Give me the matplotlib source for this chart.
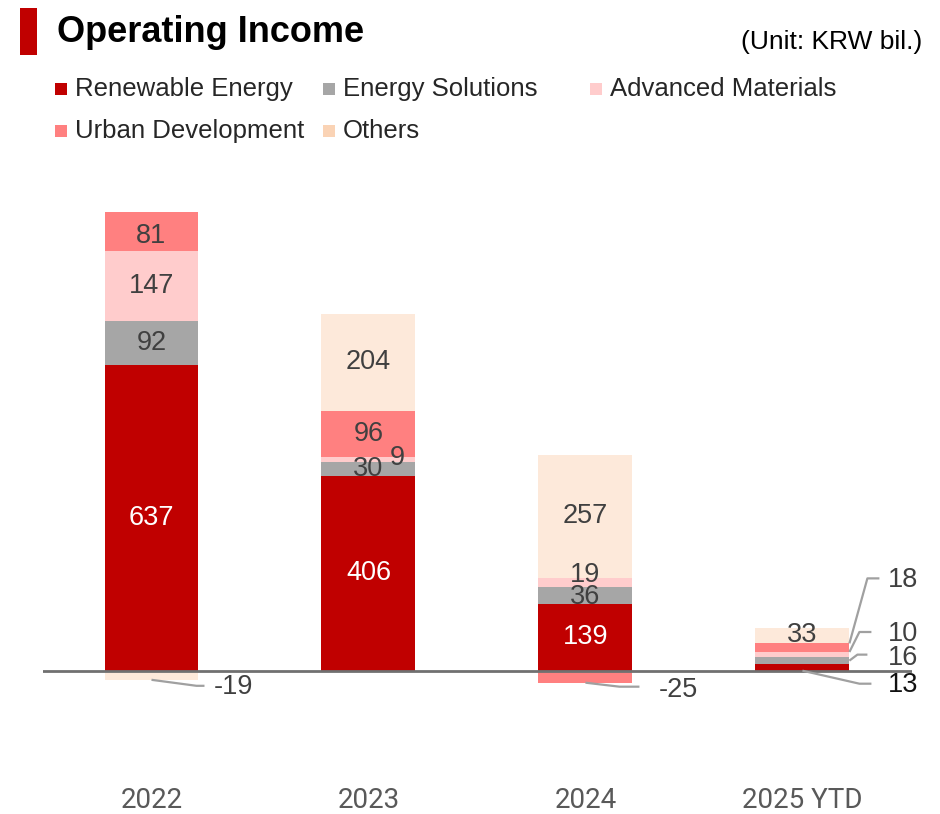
#
# operating income by segment - stacked bars
#

import matplotlib
matplotlib.use('Agg')
import matplotlib.pyplot as plt
from matplotlib.patches import Rectangle
from matplotlib.transforms import blended_transform_factory

plt.rcParams['font.family'] = ['Liberation Sans', 'DejaVu Sans']

years = ['2022', '2023', '2024', '2025 YTD']
segments = ['Renewable Energy', 'Energy Solutions', 'Advanced Materials',
            'Urban Development', 'Others']
renewable = [637, 406, 139, 13]
energy_sol = [92, 30, 36, 16]
adv_mat = [147, 9, 19, 10]
urban_dev = [81, 96, -25, 18]
others = [-19, 204, 257, 33]

series = [renewable, energy_sol, adv_mat, urban_dev, others]
bar_colors = ['#C00000', '#A6A6A6', '#FFCCCC', '#FF8080', '#FDE9DA']
legend_colors = ['#C00000', '#A6A6A6', '#FFCCCC', '#FF8080', '#FAD3B5']

W, H = 940, 814
fig = plt.figure(figsize=(W / 100, H / 100), dpi=100)

# axes placed in pixels so the baseline sits where the original has it
ax_left, ax_right, ax_top, ax_bot = 43, 912, 167.4, 742.6
ax = fig.add_axes([ax_left / W, 1 - ax_bot / H, (ax_right - ax_left) / W, (ax_bot - ax_top) / H])
xlim = (-0.5, 3.505)
ylim = (-150, 1050)
ax.set_xlim(*xlim)
ax.set_ylim(*ylim)
ax.axis('off')

PX_X = (ax_right - ax_left) / (xlim[1] - xlim[0])
PX_Y = (ax_bot - ax_top) / (ylim[1] - ylim[0])
bar_w = 0.433


def off(x, y, dx, dy):
    """shift a data point by screen pixels (dy down is positive)"""
    return x + dx / PX_X, y - dy / PX_Y


# inside-label nudges (series, bar) -> pixels
nudges = {(2, 1): (29, -2), (2, 2): (0, -7), (1, 2): (0, 2), (3, 0): (0, 5)}

# leader-line labels: anchor side, anchor y, elbow, end, text offsets in px
leaders = {
    (4, 0): ('c', 'end', (45, 6), (53, 6), (62, 7), '#404040'),
    (3, 2): ('c', 'end', (34, 4), (54, 4), (73, 7), '#404040'),
    (3, 3): ('r', 'end', (18, -65), (30, -65), (38, -63), '#404040'),
    (2, 3): ('r', 'end', (10, -20), (22, -20), (38, -18), '#404040'),
    (1, 3): ('r', 'mid', (8, -6), (18, -6), (38, -3), '#404040'),
    (0, 3): ('c', 'start', (57, 13), (69, 13), (85, 14), '#111111'),
}

pos_base = [0.0] * len(years)
neg_base = [0.0] * len(years)
for si, vals in enumerate(series):
    for bi, v in enumerate(vals):
        b = pos_base[bi] if v >= 0 else neg_base[bi]
        ax.bar(bi, v, bottom=b, width=bar_w, color=bar_colors[si], linewidth=0, zorder=2)
        if v >= 0:
            pos_base[bi] += v
        else:
            neg_base[bi] += v

        if (si, bi) in leaders:
            side, ypos, elbow, end, toff, tcol = leaders[(si, bi)]
            ax_x = bi + (bar_w / 2 if side == 'r' else 0)
            ax_y = {'end': b + v, 'mid': b + v / 2, 'start': b}[ypos]
            ex, ey = off(ax_x, ax_y, *elbow)
            nx, ny = off(ax_x, ax_y, *end)
            ax.plot([ax_x, ex, nx], [ax_y, ey, ny], color='#A0A0A0', lw=1.6,
                    zorder=4, solid_capstyle='butt')
            tx, ty = off(ax_x, ax_y, *toff)
            ax.text(tx, ty, f"{v}", ha='left', va='center', fontsize=19.5, color=tcol, zorder=5)
        else:
            dx, dy = nudges.get((si, bi), (0, 0))
            tx, ty = off(bi, b + v / 2, dx, dy)
            ax.text(tx, ty, f"{v}", ha='center', va='center', fontsize=19.5,
                    color='white' if si == 0 else '#404040', zorder=5)

ax.axhline(0, color='#707070', lw=2, zorder=3)

# category labels under the bars
cat_tr = blended_transform_factory(ax.transData, fig.transFigure)
for bi, yr in enumerate(years):
    ax.text(bi, 1 - 801 / H, yr, transform=cat_tr, ha='center', va='center',
            fontsize=20, color='#595959', family=['Roboto', 'DejaVu Sans'])

# title block
fig.patches.append(Rectangle((20 / W, 1 - 55 / H), 17 / W, 47 / H, transform=fig.transFigure,
                             color='#C00000', linewidth=0))
fig.text(57 / W, 1 - 33 / H, 'Operating Income', fontsize=26, fontweight='bold',
         color='black', ha='left', va='center')
fig.text(922 / W, 1 - 42 / H, '(Unit: KRW bil.)', fontsize=19, color='black',
         ha='right', va='center')

# legend, laid out by hand like the original
legend_pos = [(61, 89), (329, 89), (596, 89), (61, 131), (329, 131)]
for (cx, cy), name, col in zip(legend_pos, segments, legend_colors):
    fig.patches.append(Rectangle(((cx - 6) / W, 1 - (cy + 6) / H), 12 / W, 12 / H,
                                 transform=fig.transFigure, color=col, linewidth=0))
    fig.text((cx + 14) / W, 1 - cy / H, name, fontsize=18.5, color='#262626',
             ha='left', va='center')

fig.savefig('out.png', dpi=100)
